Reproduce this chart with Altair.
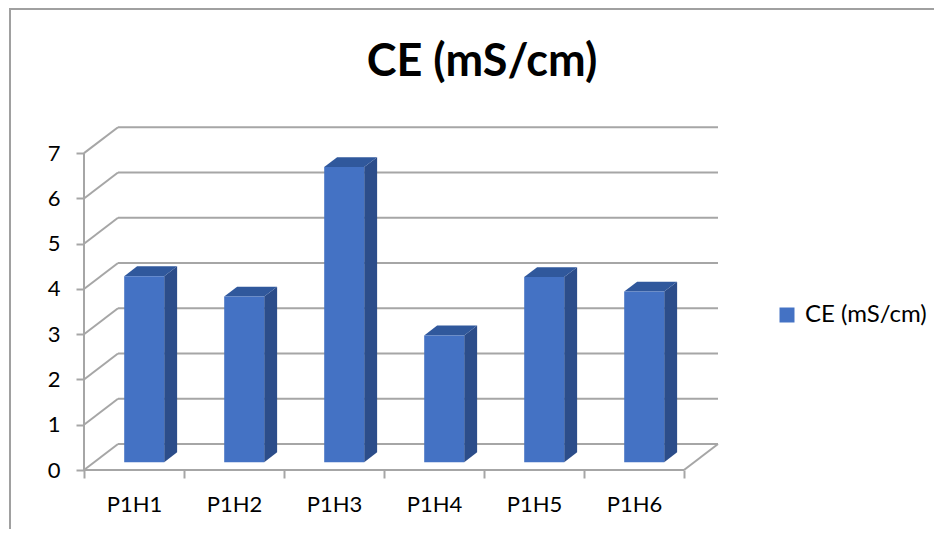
import json
import altair as alt
import pandas as pd

# ---- data ----
categories = ["P1H1", "P1H2", "P1H3", "P1H4", "P1H5", "P1H6"]
values = [4.11, 3.66, 6.52, 2.80, 4.09, 3.77]
y_ticks = [0, 1, 2, 3, 4, 5, 6, 7]
series_name = "CE (mS/cm)"
title_text = "CE (mS/cm)"

# ---- 3D look (oblique projection, in data units) ----
DEPTH_X, DEPTH_Y = 0.34, 0.574
FRONT, BACK = 0.30, 0.68
GAP = 0.30
n = len(categories)
fx, fy = FRONT * DEPTH_X, FRONT * DEPTH_Y
bx, by = BACK * DEPTH_X, BACK * DEPTH_Y

FRONT_C, SIDE_C, TOP_C = "#4472C4", "#2C4D8A", "#30589C"
GRID_C = "#A6A6A6"
FONT = "Lato"

bars = pd.DataFrame({"cat": categories, "val": values, "i": list(range(n))})
bars["series"] = series_name
bars["x0"] = bars["i"] + GAP + fx
bars["x1"] = bars["i"] + 1 - GAP + fx
bars["y0"] = fy
bars["y1"] = bars["val"] + fy

side_rows, top_rows = [], []
for i, (c, v) in enumerate(zip(categories, values)):
    side_rows.append({"cat": c, "x": i + 1 - GAP + fx, "lo": fy, "hi": v + fy})
    side_rows.append({"cat": c, "x": i + 1 - GAP + bx, "lo": by, "hi": v + by})
    top_rows.append({"cat": c, "y": v + fy, "xa": i + GAP + fx, "xb": i + 1 - GAP + fx})
    top_rows.append({"cat": c, "y": v + by, "xa": i + GAP + bx, "xb": i + 1 - GAP + bx})
side = pd.DataFrame(side_rows)
top = pd.DataFrame(top_rows)

grid = pd.DataFrame({"v": y_ticks})
grid["yb"] = grid["v"] + DEPTH_Y
grid["xb0"] = DEPTH_X
grid["xb1"] = n + DEPTH_X
grid["xd0"] = 0.0

frame = pd.DataFrame({
    "x": [0, n, 0],
    "x2": [n, n + DEPTH_X, 0],
    "y": [0, 0, 0],
    "y2": [0, DEPTH_Y, max(y_ticks)],
})

xs = alt.Scale(domain=[0, 6.4], nice=False, zero=False)
ys = alt.Scale(domain=[0, 7.6], nice=False, zero=False)

label_expr = f"{json.dumps(categories)}[datum.value] || ''"

x_axis = alt.Axis(values=list(range(n + 1)), labelExpr=label_expr, labelOffset=50,
                  labelFlush=False, labelOverlap=False, labelBound=False,
                  domain=False, grid=False, tickSize=8, tickWidth=2, tickColor=GRID_C,
                  labelFontSize=22, labelFont=FONT, labelColor="#000000",
                  labelPadding=16, title=None)
y_axis = alt.Axis(values=y_ticks, domain=False, grid=False, tickSize=8, tickWidth=2,
                  tickColor=GRID_C, labelFontSize=22, labelFont=FONT, labelColor="#000000",
                  labelPadding=16, title=None)


def X(field):
    return alt.X(field, scale=xs, axis=x_axis, title=None)


def Y(field):
    return alt.Y(field, scale=ys, axis=y_axis, title=None)


back_grid = alt.Chart(grid).mark_rule(color=GRID_C, strokeWidth=2).encode(
    x=X("xb0:Q"), x2="xb1:Q", y=Y("yb:Q"),
)
left_wall = alt.Chart(grid).mark_rule(color=GRID_C, strokeWidth=2).encode(
    x=X("xd0:Q"), x2="xb0:Q", y=Y("v:Q"), y2="yb:Q",
)
frame_lines = alt.Chart(frame).mark_rule(color=GRID_C, strokeWidth=2).encode(
    x=X("x:Q"), x2="x2:Q", y=Y("y:Q"), y2="y2:Q",
)
side_faces = alt.Chart(side).mark_area(color=SIDE_C, orient="vertical").encode(
    x=X("x:Q"), y=Y("lo:Q"), y2="hi:Q", detail="cat:N",
)
top_faces = alt.Chart(top).mark_area(color=TOP_C, orient="horizontal").encode(
    y=Y("y:Q"), x=X("xa:Q"), x2="xb:Q", detail="cat:N",
)
front_faces = alt.Chart(bars).mark_rect().encode(
    x=X("x0:Q"), x2="x1:Q", y=Y("y0:Q"), y2="y1:Q",
    color=alt.Color("series:N",
                    scale=alt.Scale(domain=[series_name], range=[FRONT_C]),
                    legend=alt.Legend(title=None, orient="none", legendX=691, legendY=177,
                                      symbolType="square", symbolSize=225,
                                      symbolStrokeWidth=0, labelFontSize=24,
                                      labelFont=FONT, labelColor="#000000",
                                      labelOffset=6, padding=0)),
)
border = alt.Chart(grid).mark_rect(fill=None, stroke="#A0A0A0", strokeWidth=2).encode(
    x=alt.value(-74), x2=alt.value(1200), y=alt.value(-117), y2=alt.value(1200),
)

chart = alt.layer(
    border, back_grid, left_wall, frame_lines, side_faces, top_faces, front_faces
).properties(
    width=640,
    height=344,
    padding={"left": 76, "top": 118, "right": 210, "bottom": 59},
    autosize=alt.AutoSizeParams(type="none"),
    title=alt.TitleParams(title_text, fontSize=45, fontWeight="bold", font=FONT,
                          anchor="middle", frame="group", dx=78, offset=0, dy=77,
                          color="#000000"),
).configure(background="white").configure_view(stroke=None)

chart.save("out.html", embed_options={"renderer": "svg", "actions": False})
